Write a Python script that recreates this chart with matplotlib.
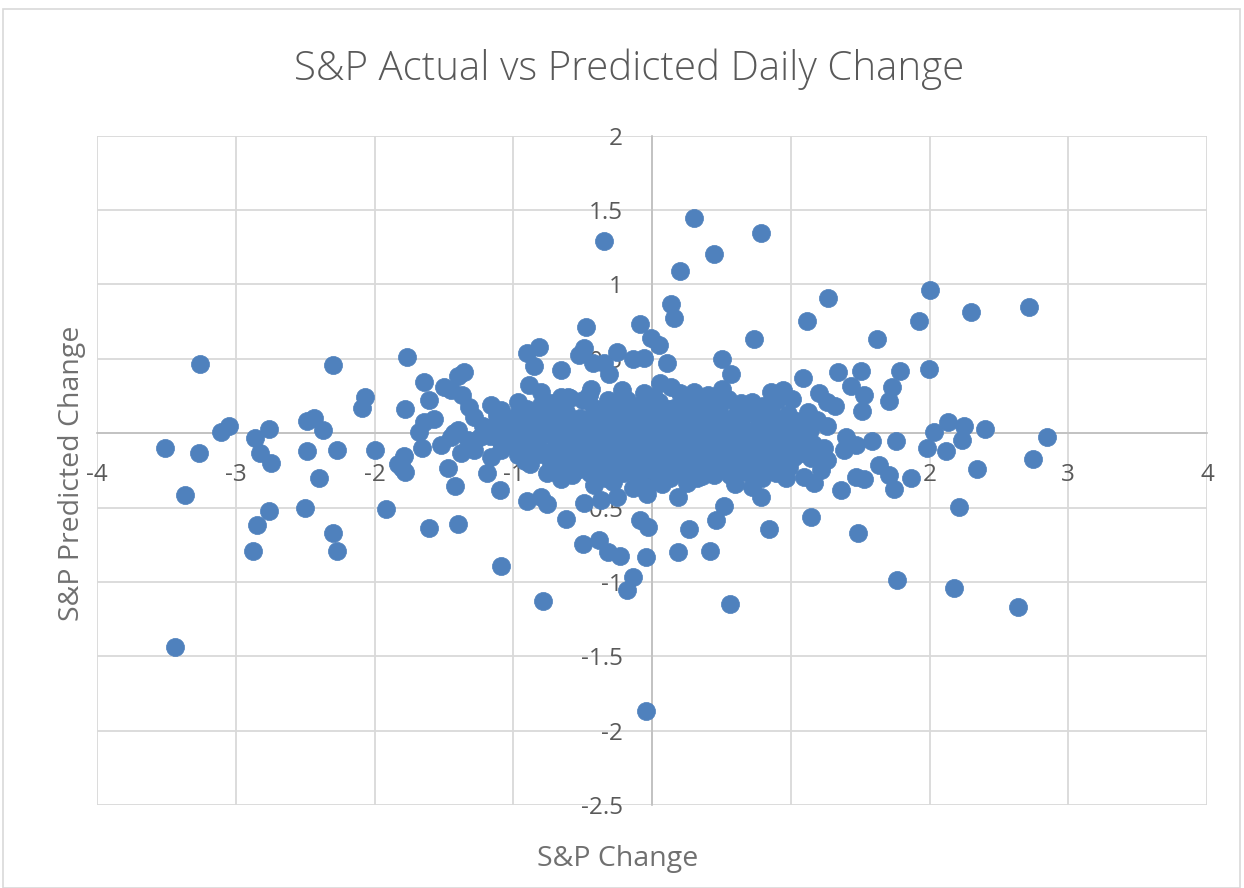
import matplotlib
matplotlib.use("Agg")
import matplotlib.pyplot as plt
from matplotlib.patches import Rectangle
import numpy as np

plt.rcParams['font.family'] = ['Open Sans', 'DejaVu Sans']
plt.rcParams['axes.unicode_minus'] = False

# ---- data: (actual S&P change, predicted change) ----
far_left_x = [-3.51, -3.27, -3.26, -3.37, -3.44, -3.05, -3.11, -2.86, -2.76, -2.83, -2.75, -2.76, -2.85, -2.88,
              -2.49, -2.44, -2.37, -2.49, -2.50, -2.40, -2.30, -2.27, -2.30, -2.27, -2.07, -2.09, -2.00, -1.92]
far_left_y = [-0.10, -0.13, 0.466, -0.415, -1.435, 0.05, 0.01, -0.03, 0.03, -0.13, -0.20, -0.52, -0.62, -0.79,
              0.08, 0.10, 0.02, -0.12, -0.50, -0.30, 0.46, -0.11, -0.67, -0.79, 0.24, 0.17, -0.11, -0.51]

left_x = [-1.77, -1.78, -1.645, -1.61, -1.57, -1.645, -1.68, -1.43, -1.50, -1.36, -1.40, -1.45, -1.37, -1.32,
          -1.285, -1.165, -1.09, -1.52, -1.66, -1.79, -1.80, -1.78, -1.83, -1.61, -1.40, -1.42, -1.47, -1.38,
          -1.285, -1.40, -1.45, -1.33, -1.24, -1.14, -1.07, -1.02, -1.19, -1.10, -1.165, -1.09, -1.09, -0.79,
          -0.90, -0.80, -0.76, -0.90, -0.83, -0.76, -0.76, -0.66, -0.62, -0.50, -0.38, -0.32, -0.23, -0.18,
          -0.135, -0.047, -0.047, -0.088, -0.03, -0.035, -0.49, -0.37, -0.25, -0.035, -0.61, -0.59, -0.54]
left_y = [0.51, 0.16, 0.343, 0.22, 0.096, 0.078, 0.01, 0.00, 0.31, 0.41, 0.385, 0.29, 0.258, 0.179,
          0.112, 0.19, 0.157, -0.08, -0.10, -0.155, -0.235, -0.26, -0.21, -0.635, -0.61, -0.354, -0.235, -0.134,
          -0.112, 0.022, -0.023, -0.045, -0.023, 0.045, 0.00, -0.045, -0.27, -0.38, -0.157, -0.11, -0.89, -1.13,
          -0.453, -0.426, -0.475, -0.11, -0.045, 0.00, -0.27, -0.31, -0.576, -0.745, -0.72, -0.80, -0.825, -1.054,
          -0.97, -0.834, -1.867, -0.583, -0.628, -0.41, -0.47, -0.45, -0.426, -0.36, 0.067, -0.045, -0.157]

upper_x = [-0.35, 0.30, 0.445, 0.20, 0.133, 0.157, -0.088, -0.48, -0.011, 0.049, -0.49, -0.53, -0.43, -0.25,
           -0.31, -0.14, -0.06, 0.11, -0.816, -0.90, -0.85, -0.66, -0.89, 0.506, 0.566, -0.35, 0.06, 0.133,
           -0.06, 0.013, 0.30, 0.40, 0.47, -0.61, -0.456, -0.32, -0.18, -0.73, -0.66, -0.59, -0.95, -0.876]
upper_y = [1.295, 1.446, 1.204, 1.09, 0.867, 0.777, 0.735, 0.713, 0.64, 0.594, 0.57, 0.527, 0.47, 0.549,
           0.40, 0.50, 0.504, 0.47, 0.58, 0.54, 0.45, 0.426, 0.325, 0.50, 0.40, 0.47, 0.336, 0.313,
           0.27, 0.246, 0.28, 0.258, 0.20, 0.246, 0.258, 0.224, 0.224, 0.20, 0.246, 0.235, 0.157, 0.145]

right_x = [0.787, 1.268, 1.114, 2.00, 1.924, 2.296, 2.717, 0.734, 1.624, 1.09, 1.34, 1.503, 1.79, 1.996,
           1.43, 1.527, 1.515, 1.73, 1.707, 1.20, 1.26, 1.32, 0.854, 0.94, 1.01, 0.638, 0.72, 1.12, 1.19, 1.26,
           2.135, 2.25, 2.03, 2.40, 2.236, 1.984, 2.116, 2.85, 1.395, 1.588, 1.756, 1.467, 1.383, 2.745, 2.34,
           2.21, 1.768, 2.176, 2.64, 0.56, 1.487, 1.143, 0.842, 0.787, 1.359, 1.743, 1.864, 1.635, 1.707, 1.467,
           1.527, 0.963, 0.89, 1.167, 1.094, 1.215, 1.263, 1.239, 1.143, 1.07, 0.83, 0.674,
           0.186, 0.265, 0.186, 0.42, 0.458, 0.52, 0.445, 0.254, 0.326, 0.42]
right_y = [1.345, 0.912, 0.755, 0.964, 0.757, 0.818, 0.847, 0.634, 0.632, 0.37, 0.408, 0.421, 0.421, 0.43,
           0.318, 0.258, 0.152, 0.31, 0.213, 0.27, 0.21, 0.18, 0.28, 0.29, 0.23, 0.20, 0.21, 0.145, 0.09, 0.045,
           0.078, 0.045, 0.007, 0.027, -0.045, -0.10, -0.117, -0.023, -0.023, -0.056, -0.05, -0.079, -0.112, -0.175, -0.242,
           -0.498, -0.987, -1.043, -1.166, -1.148, -0.672, -0.561, -0.646, -0.426, -0.381, -0.377, -0.303, -0.213, -0.28, -0.296,
           -0.307, -0.303, -0.27, -0.336, -0.292, -0.247, -0.18, -0.10, -0.168, -0.134, -0.134, -0.112,
           -0.426, -0.646, -0.796, -0.79, -0.583, -0.49, -0.28, -0.336, -0.303, -0.27]

core_x = [-0.97, -0.80, -0.50, -0.42, -0.26, -0.10, 0.05, 0.16, 0.26, 0.36, 0.55, 0.62, 0.80, 0.90,
          -1.12, -1.00, -0.86, -0.74, -0.62, -0.52, -0.38, -0.28, -0.17, -0.05, 0.08, 0.20, 0.32, 0.45, 0.58, 0.70, 0.83, 0.98, 1.08,
          -1.22, -0.94, -0.82, -0.68, -0.50, -0.42, -0.32, -0.22, -0.10, 0.02, 0.14, 0.26, 0.40, 0.50, 0.64, 0.76, 0.90, 1.00, 1.14,
          -1.17, -0.95, -0.70, -0.47, -0.36, -0.27, -0.15, -0.04, 0.08, 0.19, 0.31, 0.44, 0.56, 0.68, 0.81, 0.93, 1.08,
          -1.03, -0.88, -0.66, -0.52, -0.43, -0.31, -0.21, -0.09, 0.03, 0.14, 0.26, 0.38, 0.49, 0.61, 0.76, 0.90, 1.00, 1.16,
          -0.97, -0.80, -0.70, -0.60, -0.46, -0.35, -0.24, -0.12, -0.01, 0.10, 0.21, 0.33, 0.44, 0.56, 0.66, 0.78, 0.93, 1.02,
          -0.88, -0.73, -0.62, -0.50, -0.40, -0.28, -0.17, -0.06, 0.06, 0.17, 0.29, 0.40, 0.52, 0.63, 0.74, 0.86, 0.99,
          -0.58, -0.45, -0.33, -0.21, -0.10, 0.02, 0.13, 0.24, 0.36, 0.56, 0.68, 0.79,
          -0.42, -0.28, -0.14, 0.07, 0.60, 0.72,
          -0.80, -0.44, -0.22, 0.20, 0.50]
core_y = [0.21, 0.19, 0.22, 0.17, 0.20, 0.18, 0.21, 0.17, 0.22, 0.19, 0.23, 0.16, 0.18, 0.22,
          0.12, 0.10, 0.13, 0.11, 0.14, 0.10, 0.12, 0.15, 0.11, 0.13, 0.10, 0.14, 0.11, 0.13, 0.10, 0.14, 0.11, 0.13, 0.08,
          0.05, 0.06, 0.03, 0.07, 0.04, 0.07, 0.03, 0.06, 0.04, 0.07, 0.03, 0.06, 0.04, 0.07, 0.05, 0.03, 0.06, 0.04, 0.02,
          -0.02, -0.01, -0.03, -0.02, 0.00, -0.03, -0.01, -0.02, 0.00, -0.03, -0.01, -0.02, 0.00, -0.02, -0.01, -0.03, -0.01,
          -0.08, -0.07, -0.09, -0.06, -0.09, -0.07, -0.10, -0.06, -0.09, -0.07, -0.10, -0.06, -0.09, -0.07, -0.08, -0.06, -0.10, -0.07,
          -0.15, -0.14, -0.16, -0.13, -0.15, -0.13, -0.16, -0.14, -0.17, -0.13, -0.15, -0.17, -0.13, -0.16, -0.14, -0.17, -0.13, -0.16,
          -0.21, -0.20, -0.23, -0.20, -0.22, -0.19, -0.23, -0.20, -0.22, -0.19, -0.23, -0.20, -0.22, -0.19, -0.23, -0.20, -0.23,
          -0.28, -0.27, -0.30, -0.27, -0.29, -0.26, -0.30, -0.27, -0.29, -0.28, -0.26, -0.30,
          -0.35, -0.33, -0.37, -0.34, -0.34, -0.36,
          0.28, 0.30, 0.29, 0.27, 0.30]

dense_x = [-0.90, -0.66, -0.33, -0.18, 0.00, 0.12, 0.30, 0.42, 0.48, 0.68, 0.75, 0.86,
           -1.06, -0.92, -0.78, -0.56, -0.46, -0.34, -0.23, -0.11, 0.00, 0.14, 0.27, 0.38, 0.52, 0.64, 0.77, 0.92, 1.04,
           -1.05, -0.88, -0.76, -0.60, -0.55, -0.43, -0.18, -0.07, 0.04, 0.25, 0.36, 0.47, 0.60, 0.72, 0.86, 0.97,
           -1.10, -0.82, -0.58, -0.40, -0.24, -0.11, 0.00, 0.13, 0.24, 0.37, 0.50, 0.62, 0.74, 0.87, 1.03,
           -0.92, -0.74, -0.56, -0.39, -0.27, -0.15, -0.04, 0.07, 0.19, 0.31, 0.43, 0.54, 0.70, 0.84, 0.96, 1.10,
           -0.92, -0.65, -0.52, -0.30, -0.20, -0.08, 0.03, 0.15, 0.27, 0.38, 0.50, 0.60, 0.71, 0.82, 0.95,
           -0.68, -0.54, -0.38, -0.26, -0.14, -0.02, 0.09, 0.20, 0.32, 0.45, 0.59, 0.72, 0.88]
dense_y = [0.16, 0.17, 0.16, 0.15, 0.17, 0.16, 0.15, 0.17, 0.16, 0.18, 0.16, 0.15,
           0.085, 0.09, 0.08, 0.085, 0.09, 0.08, 0.09, 0.085, 0.08, 0.09, 0.085, 0.08, 0.09, 0.085, 0.08, 0.09, 0.085,
           0.02, 0.01, 0.02, 0.03, 0.01, 0.02, 0.03, 0.01, 0.02, 0.03, 0.01, 0.02, 0.03, 0.01, 0.02, 0.03,
           -0.045, -0.04, -0.05, -0.045, -0.04, -0.05, -0.045, -0.04, -0.05, -0.045, -0.04, -0.05, -0.045, -0.04, -0.05,
           -0.115, -0.12, -0.11, -0.115, -0.12, -0.11, -0.115, -0.12, -0.11, -0.115, -0.12, -0.11, -0.115, -0.12, -0.11, -0.115,
           -0.185, -0.18, -0.19, -0.185, -0.18, -0.19, -0.185, -0.18, -0.19, -0.185, -0.18, -0.19, -0.185, -0.18, -0.19,
           -0.245, -0.25, -0.24, -0.245, -0.25, -0.24, -0.245, -0.25, -0.24, -0.245, -0.25, -0.24, -0.245]

x_ticks = [-4, -3, -2, -1, 0, 1, 2, 3, 4]
x_tick_labels = ['-4', '-3', '-2', '-1', '0', '1', '2', '3', '4']
y_ticks = [-2.5, -2, -1.5, -1, -0.5, 0, 0.5, 1, 1.5, 2]
y_tick_labels = ['-2.5', '-2', '-1.5', '-1', '-0.5', '0', '0.5', '1', '1.5', '2']

title = "S&P Actual vs Predicted Daily Change"
x_label = "S&P Change"
y_label = "S&P Predicted Change"

x_all = np.array(far_left_x + left_x + upper_x + right_x + core_x + dense_x)
y_all = np.array(far_left_y + left_y + upper_y + right_y + core_y + dense_y)

# ---- figure ----
W, H = 1244, 888
fig = plt.figure(figsize=(W / 100, H / 100), dpi=100)
fig.patch.set_facecolor('white')

# chart border
fig.add_artist(Rectangle((3 / W, 0), (1240 - 3) / W, 1 - 9 / H, transform=fig.transFigure,
                         fill=False, edgecolor='#d9d9d9', linewidth=1.2))

ax = fig.add_axes([97.3 / W, 1 - 805 / H, (1207 - 97.3) / W, (805 - 135.7) / H])
ax.set_xlim(-4, 4)
ax.set_ylim(-2.5, 2)
ax.set_axisbelow(True)
ax.grid(True, color='#d9d9d9', linewidth=1.3)

for s in ['top', 'right']:
    ax.spines[s].set_visible(False)
ax.spines['left'].set_position(('data', 0))
ax.spines['bottom'].set_position(('data', 0))
ax.spines['left'].set_color('#bfbfbf')
ax.spines['bottom'].set_color('#bfbfbf')
ax.spines['left'].set_linewidth(1.2)
ax.spines['bottom'].set_linewidth(1.2)

ax.set_xticks(x_ticks)
ax.set_xticklabels(x_tick_labels)
ax.set_yticks(y_ticks)
ax.set_yticklabels(y_tick_labels)
ax.tick_params(axis='x', length=0, pad=21.5, labelsize=17.5, labelcolor='#595959')
ax.tick_params(axis='y', length=0, pad=21, labelsize=17.5, labelcolor='#595959')

ax.scatter(x_all, y_all, s=170, color='#4f81bd', edgecolors='#4f81bd', linewidths=0.5, zorder=3)

fig.text(629.5 / W, 1 - 80 / H, title, ha='center', va='baseline', fontsize=29,
         color='#595959', fontweight='light')
fig.text(618 / W, 1 - 866 / H, x_label, ha='center', va='baseline', fontsize=20.5, color='#707070')
fig.text(72 / W, 1 - 473 / H, y_label, ha='center', va='center', rotation=90, fontsize=20.5, color='#707070')

fig.savefig('out.png', dpi=100, facecolor='white')
